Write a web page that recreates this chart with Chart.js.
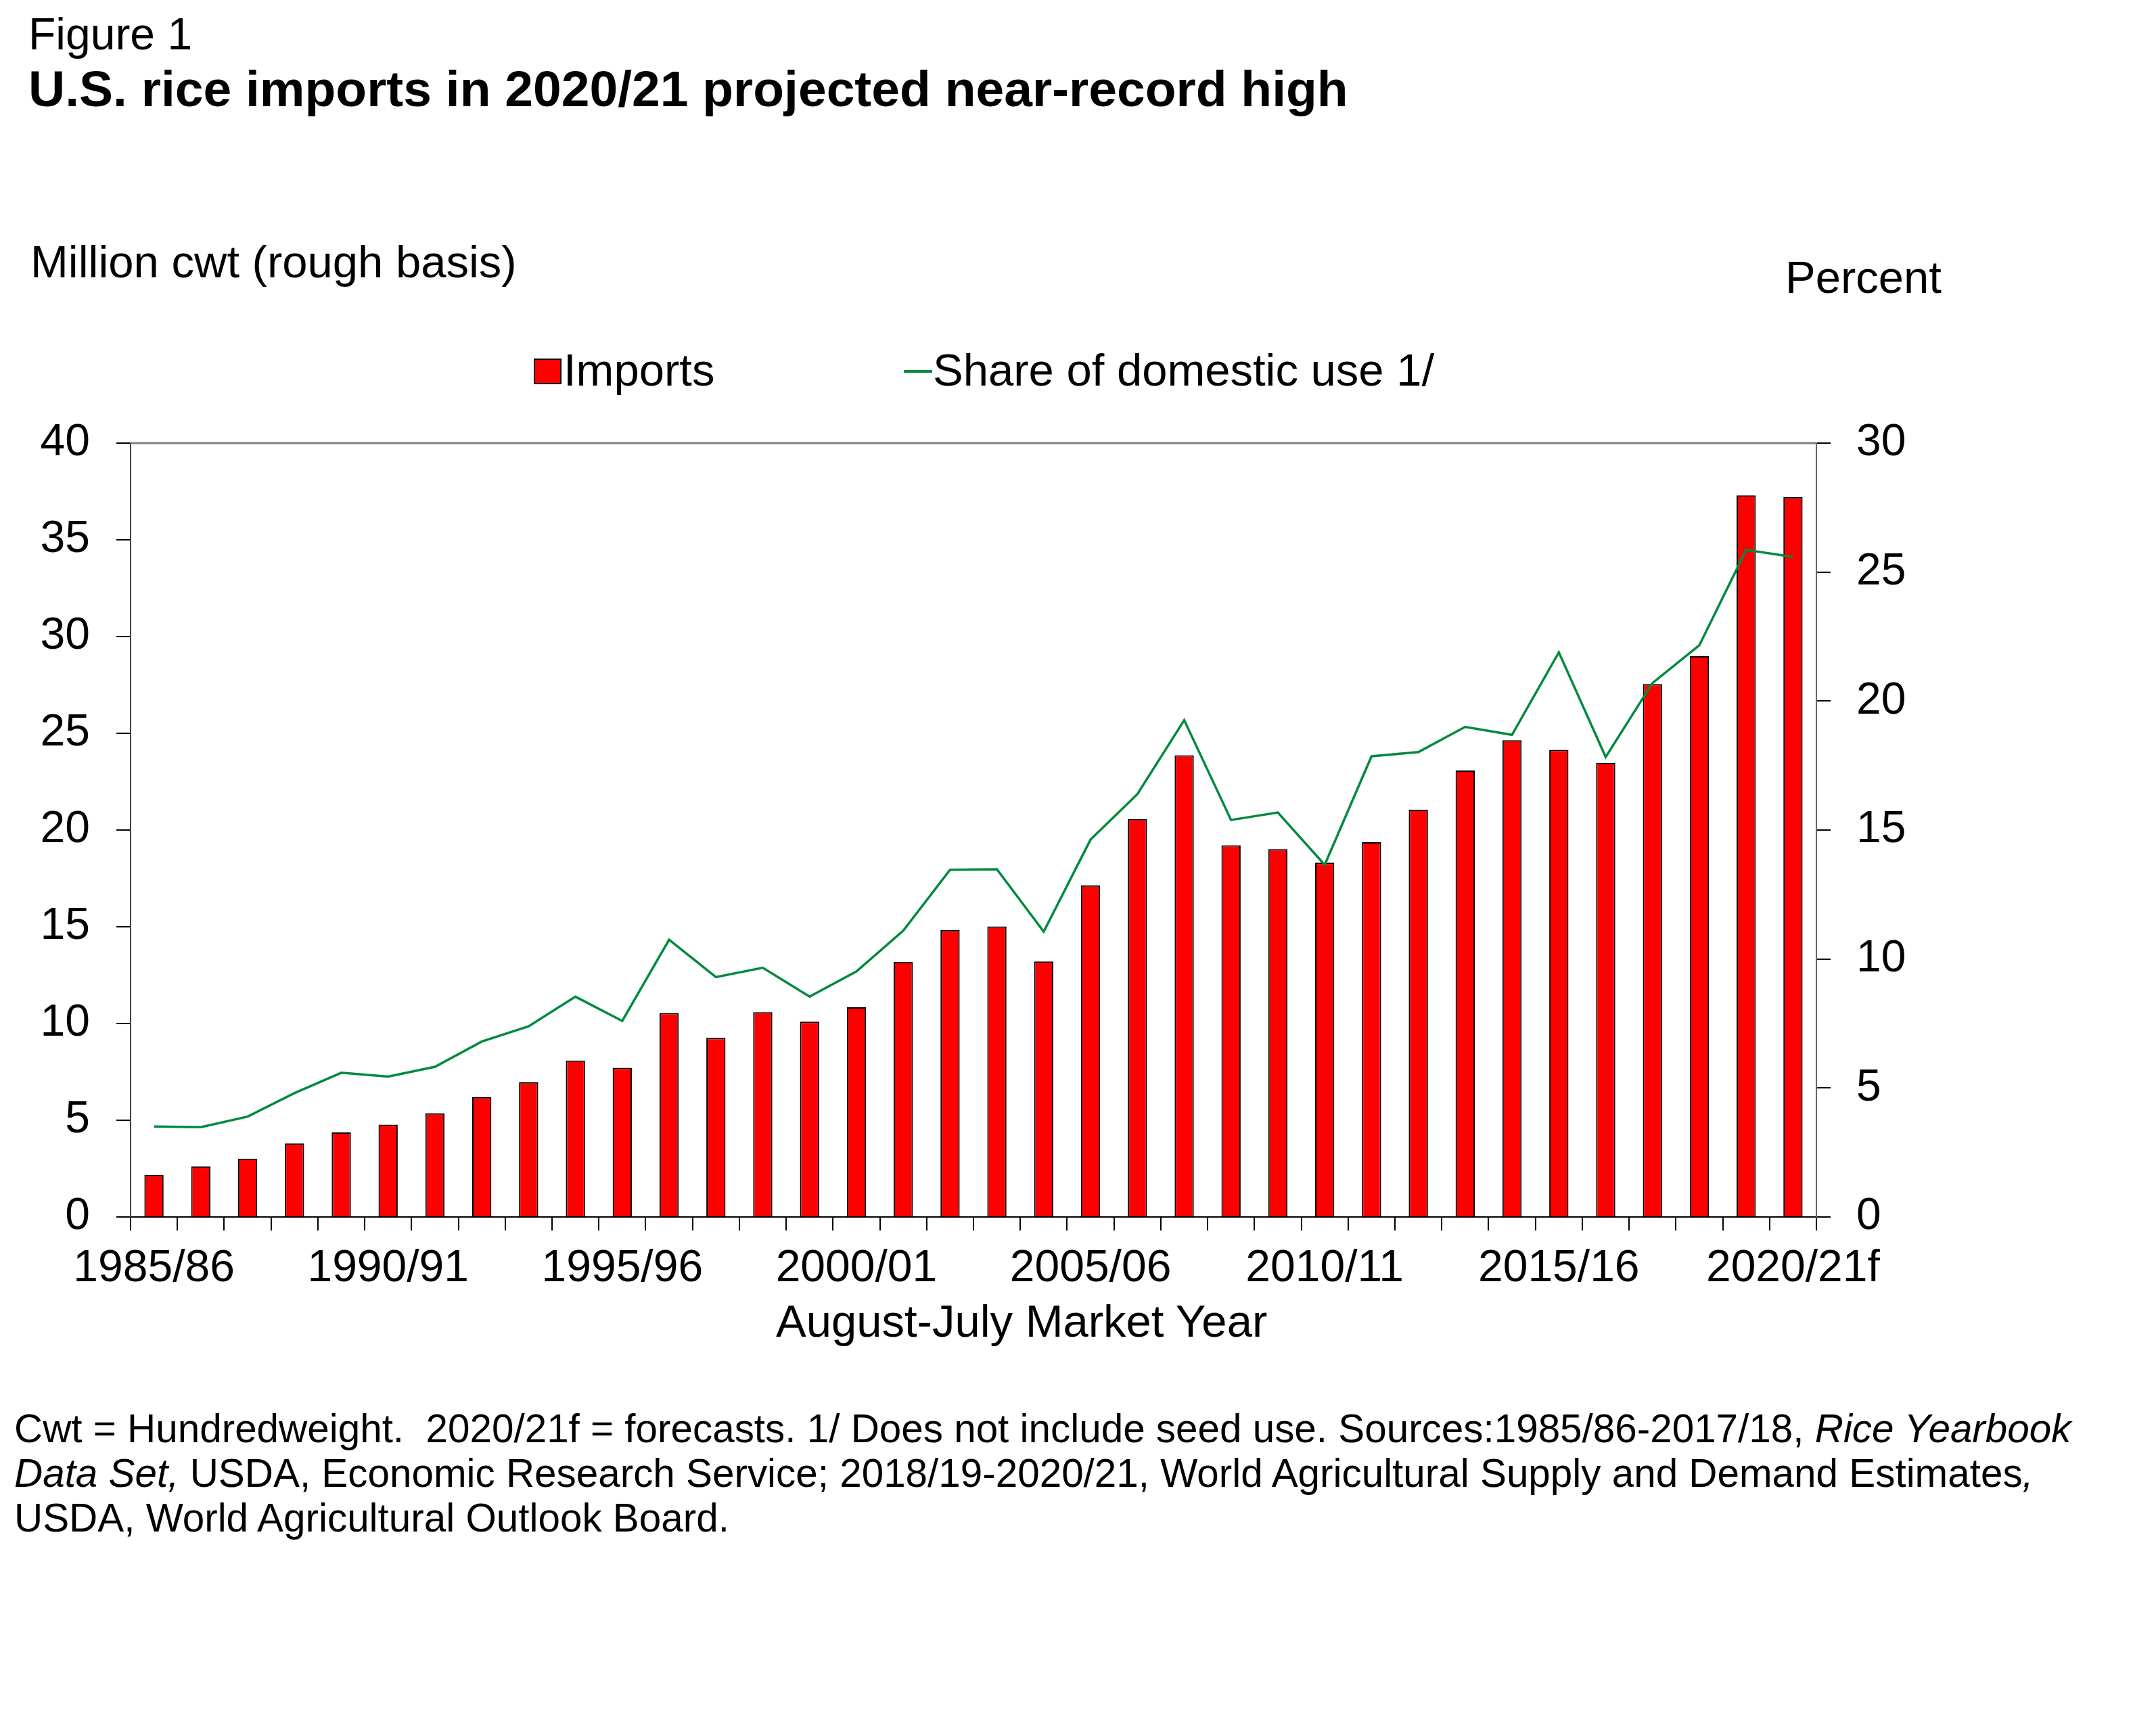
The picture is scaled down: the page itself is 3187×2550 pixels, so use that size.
<!DOCTYPE html>
<html>
<head>
<meta charset="utf-8">
<script src="https://cdn.jsdelivr.net/npm/chart.js@4.4.1/dist/chart.umd.min.js"></script>
<style>
  html, body { margin:0; padding:0; background:#fff; width:3187px; height:2550px; overflow:hidden; }
  body { position:relative; font-family:"Liberation Sans", Arial, sans-serif; color:#000; }
  #c { position:absolute; left:0; top:0; width:3187px; height:2550px; }
  .t { position:absolute; white-space:nowrap; line-height:1; }
  .lg-box { position:absolute; background:#ff0000; border:2px solid #000; box-sizing:border-box; }
  .lg-line { position:absolute; background:#008a3e; }
</style>
</head>
<body>
<canvas id="c" width="3187" height="2550"></canvas>

<div class="t" style="left:42px; top:17px; font-size:66px;">Figure 1</div>
<div class="t" style="left:42px; top:94px; font-size:75px; font-weight:bold;">U.S. rice imports in 2020/21 projected near-record high</div>
<div class="t" style="left:45px; top:353px; font-size:67px;">Million cwt (rough basis)</div>
<div class="t" style="left:2639px; top:376px; font-size:67px;">Percent</div>

<div class="lg-box" style="left:789px; top:530px; width:41px; height:38px;"></div>
<div class="t" style="left:833px; top:513px; font-size:67px;">Imports</div>
<div class="lg-line" style="left:1336px; top:547px; width:42px; height:4px;"></div>
<div class="t" style="left:1379px; top:513px; font-size:67px;">Share of domestic use 1/</div>

<div class="t" style="left:1147px; top:1919px; font-size:67px;">August-July Market Year</div>

<div class="t" style="left:21px; top:2079px; font-size:58.4px; line-height:66px;">Cwt = Hundredweight.&nbsp; 2020/21f = forecasts. 1/ Does not include seed use. Sources:1985/86-2017/18, <i>Rice Yearbook</i><br><i>Data Set,</i> USDA, Economic Research Service; 2018/19-2020/21, World Agricultural Supply and Demand Estimates<i>,</i><br>USDA, World Agricultural Outlook Board.</div>

<script>
// ---- Data ----
const years = [
  "1985/86","1986/87","1987/88","1988/89","1989/90","1990/91","1991/92","1992/93","1993/94","1994/95",
  "1995/96","1996/97","1997/98","1998/99","1999/00","2000/01","2001/02","2002/03","2003/04","2004/05",
  "2005/06","2006/07","2007/08","2008/09","2009/10","2010/11","2011/12","2012/13","2013/14","2014/15",
  "2015/16","2016/17","2017/18","2018/19","2019/20","2020/21f"
];
const shownTickLabels = ["1985/86","1990/91","1995/96","2000/01","2005/06","2010/11","2015/16","2020/21f"];

// Imports, million cwt (rough basis)
const imports = [
  2.18, 2.61, 3.02, 3.80, 4.37, 4.77, 5.36, 6.20, 6.97, 8.09,
  7.71, 10.54, 9.26, 10.59, 10.10, 10.84, 13.18, 14.83, 15.02, 13.21,
  17.14, 20.57, 23.86, 19.21, 19.01, 18.31, 19.37, 21.05, 23.08, 24.64,
  24.14, 23.47, 27.54, 28.99, 37.30, 37.21
];
// Share of domestic use, percent
const shareOfUse = [
  3.51, 3.48, 3.89, 4.80, 5.59, 5.44, 5.82, 6.80, 7.39, 8.54,
  7.60, 10.75, 9.30, 9.66, 8.54, 9.52, 11.10, 13.46, 13.48, 11.06,
  14.63, 16.39, 19.26, 15.39, 15.68, 13.65, 17.86, 18.02, 19.00, 18.69,
  21.89, 17.83, 20.70, 22.16, 25.86, 25.59
];
const leftTicks = [0, 5, 10, 15, 20, 25, 30, 35, 40];
const rightTicks = [0, 5, 10, 15, 20, 25, 30];

// ---- Layout constants ----
const AREA = { left: 193, right: 2685, top: 655, bottom: 1799 };
const W = 3187, H = 2550;
const FONT = '"Liberation Sans", Arial, sans-serif';

const frameTop = {
  id: 'frameTop',
  beforeDatasetsDraw(chart) {
    const { ctx, chartArea } = chart;
    ctx.save();
    ctx.strokeStyle = '#808080';
    ctx.lineWidth = 3;
    ctx.beginPath();
    ctx.moveTo(chartArea.left, chartArea.top);
    ctx.lineTo(chartArea.right, chartArea.top);
    ctx.stroke();
    ctx.restore();
  }
};

new Chart(document.getElementById('c'), {
  data: {
    labels: years,
    datasets: [
      {
        type: 'line',
        label: 'Share of domestic use 1/',
        data: shareOfUse,
        yAxisID: 'y1',
        borderColor: '#008a3e',
        borderWidth: 3.5,
        pointRadius: 0,
        tension: 0,
        fill: false,
        order: 1
      },
      {
        type: 'bar',
        label: 'Imports',
        data: imports,
        yAxisID: 'y',
        backgroundColor: '#ff0000',
        borderColor: '#000000',
        borderWidth: 2,
        categoryPercentage: 1.0,
        barPercentage: 0.41,
        order: 2
      }
    ]
  },
  options: {
    responsive: false,
    devicePixelRatio: 1,
    animation: false,
    layout: { padding: { top: AREA.top, left: 0, right: 0, bottom: 0 } },
    plugins: { legend: { display: false }, tooltip: { enabled: false }, title: { display: false } },
    scales: {
      x: {
        type: 'category',
        offset: true,
        afterFit(s) { s.height = H - AREA.bottom; },
        grid: {
          offset: true, drawOnChartArea: false, drawTicks: true,
          tickLength: 20, color: '#000', lineWidth: 2
        },
        border: { display: true, color: '#000', width: 2 },
        ticks: {
          autoSkip: false, maxRotation: 0, minRotation: 0, padding: 17,
          color: '#000', font: { family: FONT, size: 66 },
          callback(v, i) { const l = years[i]; return shownTickLabels.includes(l) ? l : ''; }
        }
      },
      y: {
        position: 'left',
        min: leftTicks[0], max: leftTicks[leftTicks.length - 1],
        afterFit(s) { s.width = AREA.left; },
        afterBuildTicks(s) { s.ticks = leftTicks.map(v => ({ value: v })); },
        grid: { drawOnChartArea: false, drawTicks: true, tickLength: 21, color: '#000', lineWidth: 2 },
        border: { display: true, color: '#444', width: 2 },
        ticks: { padding: 39, color: '#000', font: { family: FONT, size: 66 } }
      },
      y1: {
        position: 'right',
        min: rightTicks[0], max: rightTicks[rightTicks.length - 1],
        afterFit(s) { s.width = W - AREA.right; },
        afterBuildTicks(s) { s.ticks = rightTicks.map(v => ({ value: v })); },
        grid: { drawOnChartArea: false, drawTicks: true, tickLength: 21, color: '#000', lineWidth: 2 },
        border: { display: true, color: '#666', width: 2 },
        ticks: { padding: 38, color: '#000', font: { family: FONT, size: 66 } }
      }
    }
  },
  plugins: [frameTop]
});
</script>
</body>
</html>
